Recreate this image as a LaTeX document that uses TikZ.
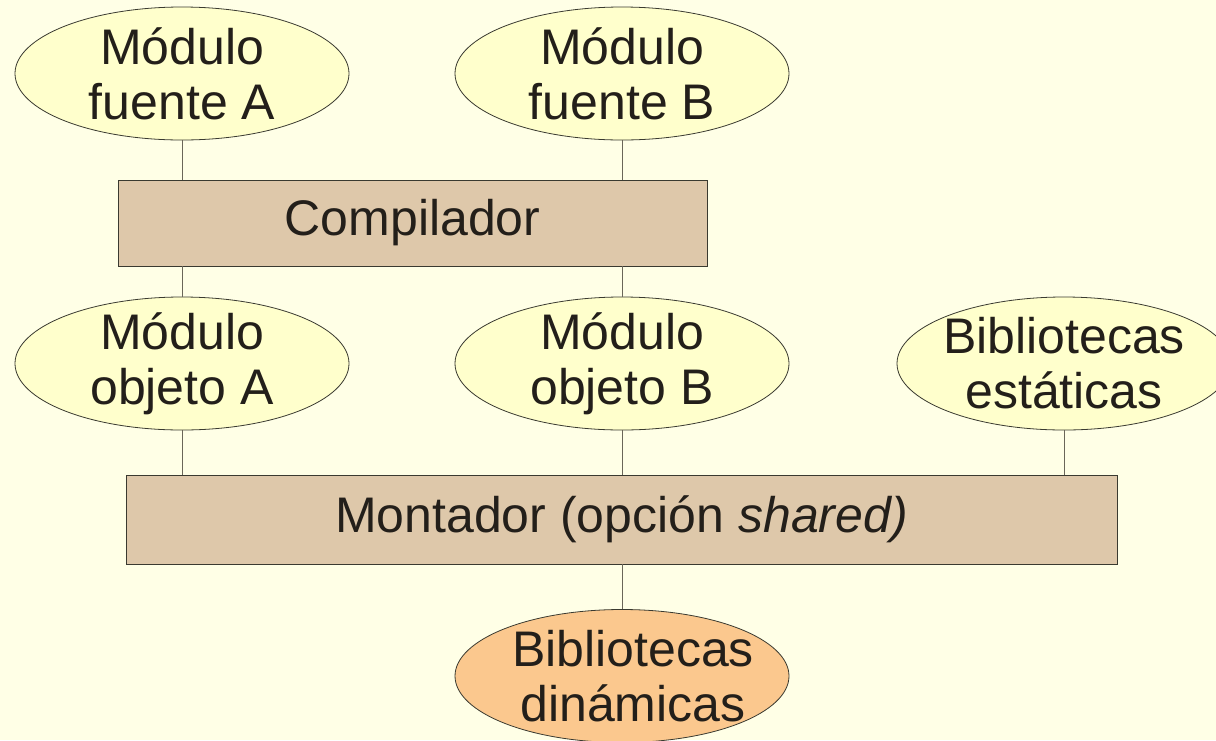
\documentclass[tikz,border=0pt]{standalone}
\usepackage{fontspec}
\setmainfont{Liberation Sans}
\usetikzlibrary{shapes.geometric}
\definecolor{bg}{HTML}{FFFFE6}
\definecolor{ellfill}{HTML}{FFFFCC}
\definecolor{boxfill}{HTML}{DEC8AA}
\definecolor{dynfill}{HTML}{FBC88E}
\definecolor{txt}{HTML}{231F1A}
\definecolor{edge}{HTML}{3A3A30}
\definecolor{conn}{HTML}{6A6658}
\tikzset{
  ell/.style={ellipse, draw=edge, fill=ellfill, line width=0.8pt, minimum width=334pt, minimum height=133pt, inner sep=-6pt, align=center, text=txt, font=\fontsize{50}{55}\selectfont},
  dyn/.style={ell, fill=dynfill},
  procbox/.style={rectangle, draw=edge, fill=boxfill, line width=0.8pt, inner sep=0pt, text=txt, font=\fontsize{50}{55}\selectfont},
  conn/.style={draw=conn, line width=1pt}
}
\begin{document}
\begin{tikzpicture}[x=1pt,y=-1pt]
\useasboundingbox (0,0) rectangle (1216,740);
\clip (0,0) rectangle (1216,740);
\fill[bg] (0,0) rectangle (1216,740);
% nodes
\node[ell] (fa) at (182,73.5) {Módulo\\fuente A};
\node[ell] (fb) at (622,73.5) {Módulo\\fuente B};
\node[procbox, minimum width=589pt, minimum height=86pt] (comp) at (412.5,223) {Compilador};
\node[ell] (oa) at (182,363.5) {Módulo\\objeto A};
\node[ell] (ob) at (622,363.5) {Módulo\\objeto B};
\node[ell] (be) at (1064,363.5) {Bibliotecas\\estáticas};
\node[procbox, minimum width=991pt, minimum height=89pt] (mont) at (621.5,519.5) {Montador (opción \textit{shared)}};
\node[dyn] (bd) at (622,676) {\makebox[0pt]{\hspace*{22pt}Bibliotecas}\\\makebox[0pt]{\hspace*{22pt}dinámicas}};
% connectors
\draw[conn] (fa.south) -- (fa.south |- comp.north);
\draw[conn] (fb.south) -- (fb.south |- comp.north);
\draw[conn] (oa.north |- comp.south) -- (oa.north);
\draw[conn] (ob.north |- comp.south) -- (ob.north);
\draw[conn] (oa.south) -- (oa.south |- mont.north);
\draw[conn] (ob.south) -- (ob.south |- mont.north);
\draw[conn] (be.south) -- (be.south |- mont.north);
\draw[conn] (mont.south -| bd.north) -- (bd.north);
\end{tikzpicture}
\end{document}
